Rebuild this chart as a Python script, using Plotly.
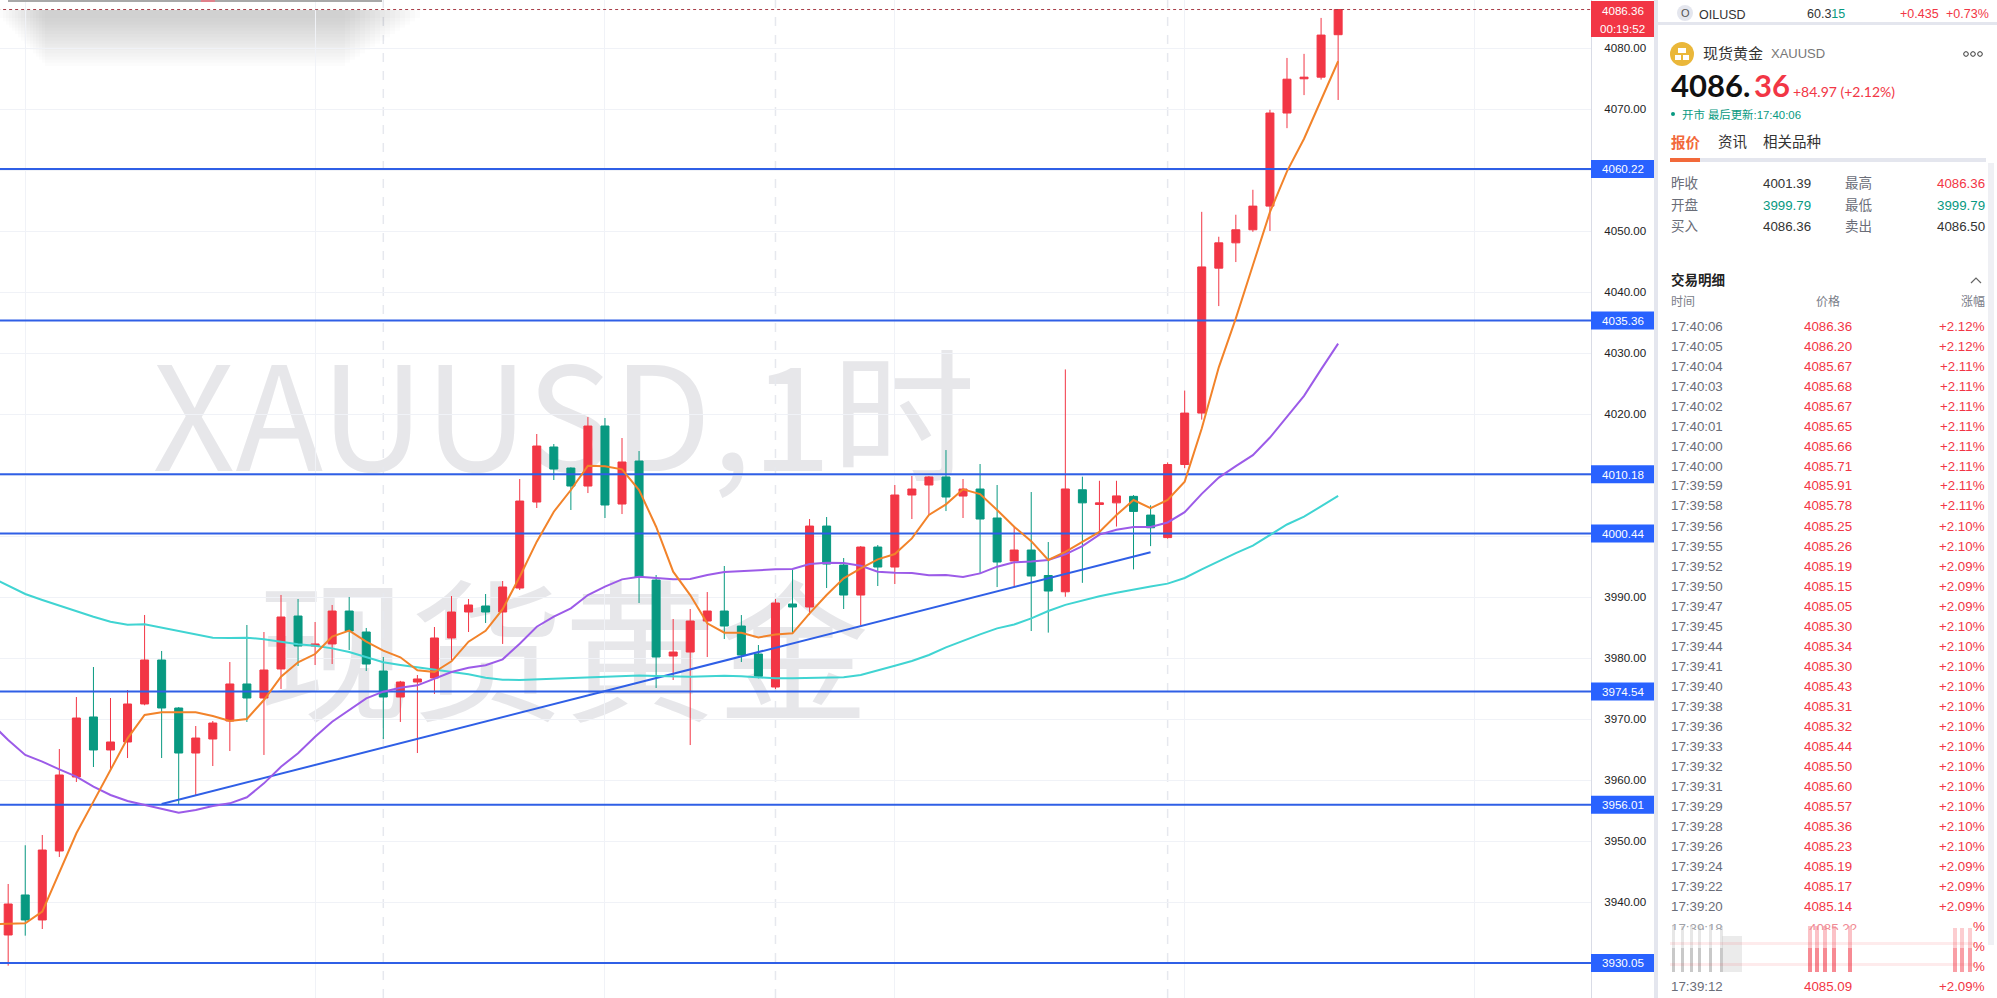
#!/usr/bin/env python
# coding: utf-8

### Spot gold 1h candlestick chart with moving averages, level lines and the quote panel

import plotly.graph_objects as go

W, H = 1997, 998
PANE_RIGHT = 1591

opens = [3934.64, 3941.2, 3937.1, 3948.41, 3960.54, 3970.38, 3964.97, 3966.28, 3972.51, 3979.72,
         3971.85, 3964.47, 3966.77, 3969.72, 3975.79, 3973.49, 3978.25, 3986.93, 3982.02, 3982.35,
         3987.75, 3984.31, 3977.92, 3973.65, 3976.11, 3976.77, 3983.33, 3987.59, 3988.57, 3987.59,
         3991.52, 4005.62, 4014.64, 4011.19, 4008.24, 4018.08, 4005.29, 4012.34, 3992.83, 3980.37,
         3981.03, 3986.11, 3987.75, 3985.29, 3980.7, 3975.29, 3988.9, 3988.41, 4001.68, 3995.29,
         3990.37, 3998.24, 3994.96, 4006.77, 4008.41, 4009.72, 4006.6, 4007.75, 4003.0, 3995.95,
         3997.75, 3993.57, 3990.9, 4007.63, 4005.22, 4005.48, 4006.55, 4003.48, 3999.79, 4011.77,
         4020.2, 4043.96, 4048.11, 4050.25, 4054.13, 4069.39, 4075.0, 4075.27, 4082.23]
highs = [3943.0, 3949.35, 3951.03, 3965.13, 3973.65, 3978.57, 3973.49, 3974.8, 3987.1, 3981.2,
         3972.0, 3968.9, 3969.72, 3979.39, 3985.46, 3984.31, 3990.38, 3989.72, 3985.95, 3988.74,
         3990.05, 3984.97, 3980.21, 3976.3, 3977.26, 3985.13, 3990.21, 3989.72, 3990.54, 3992.67,
         4009.39, 4016.77, 4015.13, 4011.3, 4019.55, 4019.39, 4016.11, 4013.98, 3993.65, 3986.44,
         3988.08, 3990.86, 3995.13, 3987.09, 3982.18, 3989.72, 3994.64, 4002.83, 4003.16, 3996.44,
         3998.41, 3998.57, 4008.41, 4009.88, 4009.88, 4014.14, 4009.39, 4011.85, 4008.41, 4001.68,
         4007.26, 3999.06, 4027.36, 4009.77, 4009.1, 4009.1, 4006.76, 4005.08, 4012.11, 4023.89,
         4053.19, 4049.11, 4052.72, 4056.81, 4069.92, 4078.42, 4079.09, 4084.98, 4086.36]
lows = [3929.61, 3934.53, 3935.62, 3947.43, 3959.72, 3962.18, 3961.69, 3963.65, 3972.3, 3963.65,
        3956.11, 3957.43, 3962.34, 3964.8, 3969.56, 3964.15, 3974.97, 3978.74, 3978.9, 3979.06,
        3981.36, 3977.92, 3966.77, 3969.56, 3964.47, 3974.15, 3979.72, 3984.31, 3985.79, 3982.35,
        3991.19, 4004.64, 4009.23, 4004.31, 4007.09, 4003.0, 4003.65, 3989.06, 3975.13, 3976.44,
        3965.78, 3980.21, 3983.16, 3979.39, 3976.71, 3974.96, 3984.09, 3987.09, 3991.52, 3988.08,
        3985.45, 3991.85, 3992.18, 4002.83, 4003.49, 4004.14, 4003.0, 3993.82, 3991.68, 3991.85,
        3984.47, 3984.21, 3990.09, 3992.37, 4000.4, 4001.6, 3994.58, 3998.39, 3999.6, 4011.17,
        4019.13, 4037.74, 4044.96, 4049.92, 4050.05, 4066.91, 4072.33, 4074.87, 4071.53]
closes = [3939.72, 3937.1, 3948.57, 3960.87, 3970.21, 3964.97, 3966.28, 3972.51, 3979.72, 3971.85,
          3964.47, 3966.93, 3969.39, 3975.79, 3973.49, 3978.08, 3986.77, 3982.02, 3982.35, 3987.75,
          3984.47, 3979.06, 3973.65, 3976.11, 3976.61, 3983.33, 3987.59, 3988.74, 3987.59, 3991.69,
          4005.78, 4014.8, 4011.03, 4008.24, 4018.08, 4005.13, 4012.18, 3993.32, 3980.21, 3981.03,
          3986.11, 3987.75, 3985.29, 3980.54, 3977.04, 3989.06, 3988.41, 4001.68, 3995.45, 3990.37,
          3998.24, 3994.96, 4006.77, 4007.75, 4009.72, 4006.44, 4007.75, 4002.83, 3995.78, 3997.75,
          3993.49, 3991.03, 4007.76, 4005.48, 4005.48, 4006.62, 4004.08, 4001.4, 4011.77, 4020.2,
          4044.16, 4048.11, 4050.25, 4054.13, 4069.39, 4074.94, 4075.27, 4082.17, 4086.36]

# moving averages, the first value sits one bar left of the first candle
ma_fast = [3936.4, 3936.44, 3936.55, 3938.46, 3944.75, 3951.31, 3956.5, 3961.69, 3966.88, 3970.7, 3971.14,
           3971.14, 3971.14, 3970.54, 3969.72, 3970.05, 3973.16, 3976.99, 3979.34, 3980.7, 3983.55,
           3984.53, 3982.73, 3981.25, 3980.16, 3978.03, 3977.75, 3979.5, 3982.73, 3984.5, 3988.05,
           3993.38, 3999.12, 4004.03, 4007.59, 4011.57, 4011.47, 4010.97, 4007.59, 4001.57, 3994.2,
           3990.37, 3985.73, 3984.2, 3984.2, 3983.43, 3983.92, 3984.09, 3987.37, 3990.37, 3993.11,
           3994.74, 3996.22, 3997.09, 3999.66, 4003.49, 4005.24, 4007.7, 4006.93, 4004.31, 4001.57,
           3999.2, 3996.12, 3997.46, 3999.06, 4000.73, 4003.48, 4005.95, 4004.61, 4005.95, 4008.96,
           4017.66, 4027.7, 4035.73, 4044.43, 4053.13, 4059.82, 4065.17, 4071.53, 4077.88]
ma_mid = [3969.34, 3966.61, 3964.15, 3963.05, 3961.8, 3960.59, 3958.96, 3957.59, 3956.61, 3955.95, 3955.4,
          3954.69, 3955.13, 3955.79, 3956.22, 3957.21, 3959.5, 3962.23, 3964.42, 3967.15, 3969.61,
          3971.52, 3973.44, 3974.53, 3975.18, 3975.57, 3976.72, 3977.75, 3978.46, 3978.85, 3979.83,
          3982.4, 3985.18, 3986.82, 3988.19, 3990.37, 3991.74, 3992.94, 3993.38, 3993.21, 3992.94,
          3993.0, 3993.65, 3994.14, 3994.31, 3994.36, 3994.58, 3994.64, 3995.45, 3995.67, 3995.62,
          3995.18, 3994.2, 3994.03, 3993.98, 3993.6, 3993.65, 3993.32, 3993.92, 3995.02, 3995.73,
          3995.87, 3996.12, 3997.05, 3998.39, 4000.27, 4001.07, 4001.54, 4001.54, 4002.27, 4003.95,
          4006.96, 4009.63, 4011.51, 4013.31, 4016.19, 4019.54, 4023.02, 4027.36, 4031.58]
ma_slow = [3993.27, 3991.85, 3990.54, 3989.56, 3988.63, 3987.7, 3986.82, 3986.0, 3985.51, 3985.57, 3985.02,
           3984.47, 3983.93, 3983.38, 3983.33, 3983.38, 3983.11, 3982.73, 3982.29, 3982.07, 3981.63,
           3981.03, 3980.16, 3979.34, 3978.9, 3978.52, 3978.25, 3977.81, 3977.37, 3976.82, 3976.5,
           3976.44, 3976.55, 3976.66, 3976.77, 3976.88, 3976.98, 3977.15, 3977.2, 3977.09, 3976.98,
           3976.98, 3977.04, 3977.15, 3977.04, 3976.82, 3976.71, 3976.71, 3976.77, 3976.82, 3976.88,
           3977.26, 3977.97, 3978.79, 3979.55, 3980.54, 3981.79, 3982.89, 3983.92, 3984.91, 3985.54,
           3986.55, 3987.75, 3988.76, 3989.49, 3990.16, 3990.76, 3991.3, 3991.77, 3992.24, 3993.17,
           3994.58, 3995.92, 3997.25, 3998.46, 4000.27, 4001.94, 4003.21, 4004.95, 4006.62]

levels = [4060.22, 4035.36, 4010.18, 4000.44, 3974.54, 3956.01, 3930.05]
trend_x = [9, 67]
trend_y = [3956.11, 3997.39]
last_price = 4086.36

tick_values = [3940, 3950, 3960, 3970, 3980, 3990, 4000, 4010, 4020, 4030, 4040, 4050, 4060, 4070, 4080]
grid_bars = [1, 18, 35, 52, 69, 86]
session_bars = [22, 45, 68]

trade_times = ["17:40:06", "17:40:05", "17:40:04", "17:40:03", "17:40:02", "17:40:01", "17:40:00", "17:40:00",
               "17:39:59", "17:39:58", "17:39:56", "17:39:55", "17:39:52", "17:39:50", "17:39:47", "17:39:45",
               "17:39:44", "17:39:41", "17:39:40", "17:39:38", "17:39:36", "17:39:33", "17:39:32", "17:39:31",
               "17:39:29", "17:39:28", "17:39:26", "17:39:24", "17:39:22", "17:39:20"]
trade_prices = ["4086.36", "4086.20", "4085.67", "4085.68", "4085.67", "4085.65", "4085.66", "4085.71",
                "4085.91", "4085.78", "4085.25", "4085.26", "4085.19", "4085.15", "4085.05", "4085.30",
                "4085.34", "4085.30", "4085.43", "4085.31", "4085.32", "4085.44", "4085.50", "4085.60",
                "4085.57", "4085.36", "4085.23", "4085.19", "4085.17", "4085.14"]
trade_changes = ["+2.12%", "+2.12%", "+2.11%", "+2.11%", "+2.11%", "+2.11%", "+2.11%", "+2.11%",
                 "+2.11%", "+2.11%", "+2.10%", "+2.10%", "+2.09%", "+2.09%", "+2.09%", "+2.10%",
                 "+2.10%", "+2.10%", "+2.10%", "+2.10%", "+2.10%", "+2.10%", "+2.10%", "+2.10%",
                 "+2.10%", "+2.10%", "+2.10%", "+2.09%", "+2.09%", "+2.09%"]

RED = "#f23645"
GREEN = "#089981"
BLUE = "#2962ff"
LEVEL_BLUE = "#2f5fe6"
GRID = "#f0f2f7"
TEXT_GREY = "#6a6d78"
SANS = "Liberation Sans, Noto Sans CJK SC"
CJK = "Noto Sans CJK SC"

candle_x = list(range(len(closes)))
ma_x = [-1] + candle_x
span_x = [-1, 94]

fig = go.Figure()

fig.add_trace(go.Candlestick(x=candle_x, open=opens, high=highs, low=lows, close=closes,
                             increasing=dict(line=dict(color=RED, width=1), fillcolor=RED),
                             decreasing=dict(line=dict(color=GREEN, width=1), fillcolor=GREEN),
                             whiskerwidth=0, showlegend=False))

fig.add_trace(go.Scatter(x=span_x, y=[last_price, last_price], mode="lines", showlegend=False,
                         line=dict(color="#a83c48", width=1, dash="dot")))
for lv in levels:
    fig.add_trace(go.Scatter(x=span_x, y=[lv, lv], mode="lines", showlegend=False,
                             line=dict(color=LEVEL_BLUE, width=2)))
fig.add_trace(go.Scatter(x=trend_x, y=trend_y, mode="lines", showlegend=False,
                         line=dict(color=LEVEL_BLUE, width=2)))
fig.add_trace(go.Scatter(x=ma_x, y=ma_slow, mode="lines", showlegend=False, line=dict(color="#40d4d2", width=2)))
fig.add_trace(go.Scatter(x=ma_x, y=ma_mid, mode="lines", showlegend=False, line=dict(color="#9c5be8", width=2)))
fig.add_trace(go.Scatter(x=ma_x, y=ma_fast, mode="lines", showlegend=False, line=dict(color="#f2832a", width=2)))


def px_x(x):
    return x / W


def px_y(y):
    return 1 - y / H


shapes = []
notes = []


def box(x0, y0, x1, y1, color, layer="above", opacity=1, kind="rect"):
    shapes.append(dict(type=kind, xref="paper", yref="paper", x0=px_x(x0), x1=px_x(x1), y0=px_y(y0), y1=px_y(y1),
                       fillcolor=color, line=dict(width=0), layer=layer, opacity=opacity))


def txt(x, y, text, size=13, color="#333333", anchor="left", family=SANS, vanchor="middle", **kw):
    notes.append(dict(xref="paper", yref="paper", x=px_x(x), y=px_y(y), text=text, showarrow=False, xanchor=anchor,
                      yanchor=vanchor, font=dict(size=size, color=color, family=family), borderpad=0, **kw))


def watermark(x0, y0, x1, y1, text, size):
    shapes.append(dict(type="rect", xref="paper", yref="paper", x0=px_x(x0), x1=px_x(x1), y0=px_y(y0), y1=px_y(y1),
                       line=dict(width=0), fillcolor="rgba(0,0,0,0)", layer="below",
                       label=dict(text=text, textposition="middle center",
                                  font=dict(size=size, color="#e7e7ea", family=CJK))))


watermark(153, 351, 975, 511, "XAUUSD,1时", 144)
watermark(261, 590, 866, 745, "现货黄金", 153)

# dashed session separators
for bar in session_bars:
    shapes.append(dict(type="line", xref="x", yref="paper", x0=bar, x1=bar, y0=0, y1=1, layer="below",
                       line=dict(color="#e6e8ee", width=1.5, dash="dash")))

# shadow of the clipped pop-up at the top left
for i in range(16):
    box(i * 3, 10, 420 - i * 5, 18 + i * 3.2, "#909090", layer="below", opacity=0.024)
box(8, 0, 382, 2, "#a8a8a8")
box(201, 0, 215, 2, "#e0808a")

# price tags on the axis
box(1591, 1, 1654, 37, RED)
txt(1622.5, 10, "4086.36", 11.6, "#ffffff", "center")
txt(1622.5, 28, "00:19:52", 11.6, "#ffffff", "center")
for lv in levels:
    y_mid = 48.3 + (4080 - lv) * 6.1
    box(1591, y_mid - 9, 1654, y_mid + 9, BLUE)
    txt(1622.5, y_mid, f"{lv:.2f}", 11.6, "#ffffff", "center")

# panel separators
box(1654, 0, 1658, H, "#e4e6ee")
box(1658, 22, W, 25, "#e4e6ee")
box(1988, 163, 1994, 945, "#eff0f4")

# top ticker row
box(1677, 5, 1693, 21, "#e4e6ee", kind="circle")
txt(1685, 13, "O", 11, "#555555", "center")
txt(1698, 15, "OILUSD", 12.5, "#333333")
txt(1806, 14, "60.3<span style='color:#089981'>15</span>", 12.5, "#333333")
txt(1919, 14, "+0.435", 12.5, RED, "center")
txt(1990, 14, "+0.73%", 12.5, RED, "right")

# instrument header
box(1670, 42, 1694, 66, "#eab73a", kind="circle")
box(1678, 48, 1686, 53, "#ffffff")
box(1675, 55, 1681, 60, "#ffffff")
box(1683, 55, 1689, 60, "#ffffff")
txt(1702, 53, "现货黄金", 15, "#333333")
txt(1770, 54, "XAUUSD", 13, "#777777")
for cx in (1966, 1973, 1980):
    shapes.append(dict(type="circle", xref="paper", yref="paper", x0=px_x(cx - 2.3), x1=px_x(cx + 2.3),
                       y0=px_y(54 - 2.3), y1=px_y(54 + 2.3), line=dict(color="#333333", width=1)))
txt(1670, 85, "<b>4086.</b>", 31, "#111111", family="Lato")
txt(1753, 85, "<b>36</b>", 31, RED, family="Lato")
txt(1792, 91, "+84.97 (+2.12%)", 14, RED, family="Lato")
box(1671, 112, 1675, 116, GREEN, kind="circle")
txt(1681, 114, "开市 最后更新:17:40:06", 11.4, GREEN)

# tabs
txt(1670, 142, "<b>报价</b>", 14.5, "#f2693a")
txt(1717, 142, "资讯", 14.5, "#333333")
txt(1762, 142, "相关品种", 14.5, "#333333")
box(1700, 158, 1986, 162, "#e4e6ee")
box(1670, 158, 1700, 162, "#f2693a")

# quote table
txt(1670, 183, "昨收", 13.5, TEXT_GREY)
txt(1762, 183, "4001.39", 13.3, "#333333")
txt(1844, 183, "最高", 13.5, TEXT_GREY)
txt(1986, 183, "4086.36", 13.3, RED, "right")
txt(1670, 205, "开盘", 13.5, TEXT_GREY)
txt(1762, 205, "3999.79", 13.3, GREEN)
txt(1844, 205, "最低", 13.5, TEXT_GREY)
txt(1986, 205, "3999.79", 13.3, GREEN, "right")
txt(1670, 227, "买入", 13.5, TEXT_GREY)
txt(1762, 227, "4086.36", 13.3, "#333333")
txt(1844, 227, "卖出", 13.5, TEXT_GREY)
txt(1986, 227, "4086.50", 13.3, "#333333", "right")

# trades list
txt(1670, 280, "<b>交易明细</b>", 13.5, "#222222")
shapes.append(dict(type="path", xref="paper", yref="paper", line=dict(color="#666666", width=1.2),
                   path=f"M {px_x(1971)} {px_y(283)} L {px_x(1976)} {px_y(278)} L {px_x(1981)} {px_y(283)}"))
txt(1670, 302, "时间", 12, "#7a7d88")
txt(1828, 302, "价格", 12, "#7a7d88", "center")
txt(1986, 302, "涨幅", 12, "#7a7d88", "right")
for i, (t, p, c) in enumerate(zip(trade_times, trade_prices, trade_changes)):
    row_y = 326 + i * 20
    txt(1670, row_y, t, 13.3, TEXT_GREY)
    txt(1828, row_y, p, 13.3, RED, "center")
    txt(1986, row_y, c, 13.3, RED, "right")
txt(1670, 986, "17:39:12", 13.3, TEXT_GREY)
txt(1828, 986, "4085.09", 13.3, RED, "center")
txt(1986, 986, "+2.09%", 13.3, RED, "right")

# smeared rows near the bottom of the list, only the top of the first row survives
txt(1670, 920, "17:39:18", 13.3, "#a0a2a8", vanchor="top", height=9, valign="top", width=56, align="left")
txt(1808, 920, "4085.22", 13.3, "#f08a94", vanchor="top", height=9, valign="top", width=50, align="left")
for y_row in (926, 946, 966):
    txt(1986, y_row, "%", 13.3, RED, "right")
for x0 in (1672, 1681, 1690, 1698, 1709, 1720):
    box(x0, 926, x0 + 3, 972, "#555555", opacity=0.14)
    box(x0, 948, x0 + 3, 972, "#555555", opacity=0.2)
box(1722, 936, 1742, 972, "#cccccc", opacity=0.4)
for x0 in (1808, 1815, 1823, 1832, 1848):
    box(x0, 926, x0 + 4, 972, RED, opacity=0.3)
    box(x0, 948, x0 + 4, 972, RED, opacity=0.4)
for x0 in (1953, 1960, 1968):
    box(x0, 928, x0 + 4, 972, RED, opacity=0.25)
    box(x0, 948, x0 + 4, 972, RED, opacity=0.3)
box(1670, 942, 1975, 945, RED, opacity=0.1)
box(1670, 963, 1975, 966, RED, opacity=0.1)

fig.update_layout(
    width=W, height=H, autosize=False,
    margin=dict(l=0, r=0, t=0, b=0),
    paper_bgcolor="#ffffff", plot_bgcolor="#ffffff",
    showlegend=False, boxgap=0.33,
    shapes=shapes, annotations=notes,
    xaxis=dict(domain=[0, PANE_RIGHT / W], range=[-0.48, 92.83], type="linear", rangeslider=dict(visible=False),
               tickmode="array", tickvals=grid_bars, showticklabels=False, ticks="", showgrid=True,
               gridcolor=GRID, gridwidth=1, zeroline=False, fixedrange=True),
    yaxis=dict(side="right", range=[3924.31, 4087.92], tickmode="array", tickvals=tick_values,
               ticktext=[f"{v:.2f}" for v in tick_values], showgrid=True, gridcolor=GRID, gridwidth=1,
               zeroline=False, showline=True, linecolor="#d9dce6", linewidth=1, ticks="outside", ticklen=10,
               tickcolor="rgba(0,0,0,0)", tickfont=dict(size=11.6, color="#222222", family=SANS), fixedrange=True),
)

# page margin would push the chart off the window
fig.write_html("out.html", config={"displayModeBar": False},
               post_script="document.body.style.margin='0';document.documentElement.style.overflow='hidden';")
